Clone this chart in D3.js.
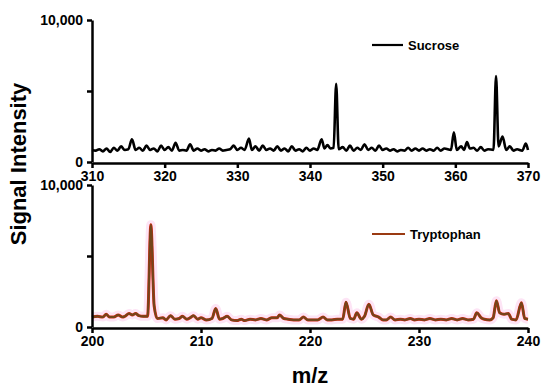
<!DOCTYPE html>
<html>
<head>
<meta charset="utf-8">
<script src="https://cdn.jsdelivr.net/npm/d3@7"></script>
<style>
  body { margin: 0; background: #fff; }
  svg { font-family: "Liberation Sans", Arial, sans-serif; }
  .axis path, .axis line { stroke: #000; stroke-width: 2.5; }
  .axis text { font-size: 14px; font-weight: bold; fill: #000; }
</style>
</head>
<body>
<div id="chart"></div>
<script>
/* DATA */
const sucroseTicks = [310, 320, 330, 340, 350, 360, 370];
const tryptophanTicks = [200, 210, 220, 230, 240];
const signalTicks = [0, 5000, 10000];

// [m/z, signal]
const sucroseSpectrum = [
  [310, 850], [310.5, 800], [311, 900], [311.5, 750], [312, 950], [312.5, 700], [313, 1000], [313.5, 800],
  [314, 1100], [314.5, 850], [315, 900], [315.5, 1600], [316, 850], [316.5, 1000], [317, 800], [317.5, 1150],
  [318, 850], [318.5, 950], [319, 750], [319.5, 1150], [320, 850], [320.5, 1050], [321, 800], [321.5, 1350],
  [322, 800], [322.5, 850], [323, 800], [323.5, 1250], [324, 800], [324.5, 950], [325, 800], [325.5, 900],
  [326, 750], [326.5, 850], [327, 800], [327.5, 950], [328, 800], [328.5, 850], [329, 900], [329.5, 1150],
  [330, 850], [330.5, 1000], [331, 850], [331.6, 1650], [332, 850], [332.5, 1100], [333, 800], [333.5, 1150],
  [334, 850], [334.5, 950], [335, 800], [335.5, 1100], [336, 800], [336.5, 950], [337, 750], [337.5, 1100],
  [338, 800], [338.5, 900], [339, 750], [339.5, 1000], [340, 800], [340.5, 950], [341, 850], [341.6, 1600],
  [342, 950], [342.4, 1200], [342.8, 950], [343.25, 1000], [343.6, 5500], [343.95, 900], [344.5, 1050], [345, 800],
  [345.5, 1150], [346, 800], [346.5, 1000], [347, 850], [347.5, 1250], [348, 850], [348.5, 1000], [349, 800],
  [349.5, 1150], [350, 850], [350.5, 950], [351, 800], [351.5, 900], [352, 750], [352.5, 850], [353, 800],
  [353.5, 1000], [354, 800], [354.5, 950], [355, 800], [355.5, 950], [356, 800], [356.5, 900], [357, 800],
  [357.5, 1000], [358, 800], [358.5, 950], [359.4, 850], [359.8, 2100], [360.2, 850], [360.8, 1100], [361.2, 850],
  [361.6, 1400], [362, 950], [362.5, 1000], [363, 800], [363.5, 1050], [364, 800], [364.5, 900], [365.25, 850],
  [365.6, 6050], [365.95, 1100], [366.5, 1800], [367, 850], [367.5, 1100], [368, 800], [368.5, 900], [369.2, 800],
  [369.7, 1300], [370, 850]
];

const tryptophanSpectrum = [
  [200, 700], [200.5, 750], [201, 700], [201.3, 900], [201.6, 700], [202, 700], [202.4, 850], [202.8, 700],
  [203, 750], [203.4, 950], [203.7, 850], [204, 950], [204.3, 800], [204.7, 750], [205.1, 750], [205.4, 7200],
  [205.7, 1500], [206, 600], [206.5, 650], [206.8, 500], [207.2, 800], [207.6, 550], [208, 600], [208.3, 750],
  [208.7, 550], [209, 650], [209.3, 800], [209.7, 550], [210, 650], [210.5, 500], [211, 600], [211.35, 1300],
  [211.7, 550], [212, 600], [212.4, 750], [212.8, 500], [213.3, 450], [213.7, 550], [214, 450], [214.5, 550],
  [215, 500], [215.5, 600], [216, 500], [216.5, 650], [217, 650], [217.2, 850], [217.6, 600], [218, 550],
  [218.5, 500], [219, 500], [219.4, 700], [219.8, 500], [220.3, 500], [220.7, 500], [221.2, 700], [221.6, 500],
  [222, 500], [222.5, 550], [223, 550], [223.3, 1750], [223.7, 600], [224, 550], [224.3, 1000], [224.7, 550],
  [225, 750], [225.4, 1600], [225.8, 850], [226.3, 700], [226.7, 500], [227, 500], [227.4, 700], [227.8, 500],
  [228.3, 550], [228.7, 500], [229.2, 600], [229.6, 500], [230, 550], [230.5, 500], [231, 600], [231.5, 500],
  [232, 550], [232.5, 500], [233, 600], [233.5, 500], [234, 600], [234.5, 500], [235, 550], [235.3, 1000],
  [235.7, 650], [236, 550], [236.5, 500], [236.8, 650], [237.1, 1850], [237.4, 1000], [237.8, 900], [238.2, 950],
  [238.5, 550], [238.9, 500], [239.4, 1700], [239.7, 600], [240, 550]
];

/* LAYOUT */
const width = 550, height = 390;
const left = 92, right = 528;

const svg = d3.select("#chart").append("svg")
  .attr("width", width)
  .attr("height", height);

function panel(opts) {
  const xScale = d3.scaleLinear().domain(opts.domain).range([left, right]);
  const yScale = d3.scaleLinear().domain([0, 10000]).range([opts.bottom, opts.top]);

  const line = d3.line()
    .x(d => xScale(d[0]))
    .y(d => yScale(d[1]))
    .curve(d3.curveMonotoneX);

  const g = svg.append("g");

  if (opts.halo) {
    g.append("path").datum(opts.data)
      .attr("d", line)
      .attr("fill", "none")
      .attr("stroke", "#fde4f5")
      .attr("stroke-width", 9)
      .attr("stroke-linejoin", "round");
    g.append("path").datum(opts.data)
      .attr("d", line)
      .attr("fill", "none")
      .attr("stroke", "#d02a12")
      .attr("stroke-width", 3)
      .attr("stroke-linejoin", "round");
  }
  g.append("path").datum(opts.data)
    .attr("d", line)
    .attr("fill", "none")
    .attr("stroke", opts.color)
    .attr("stroke-width", opts.halo ? 2.1 : 2.6)
    .attr("stroke-linejoin", "round");

  g.append("g")
    .attr("class", "axis")
    .attr("transform", `translate(0,${opts.bottom + 1})`)
    .call(d3.axisBottom(xScale).tickValues(opts.ticks).tickSize(5).tickSizeOuter(0).tickPadding(3));

  g.append("g")
    .attr("class", "axis")
    .attr("transform", `translate(${left},0)`)
    .call(d3.axisLeft(yScale).tickValues(signalTicks).tickSize(5).tickSizeOuter(0).tickPadding(4)
      .tickFormat(d => d === 5000 ? "" : d3.format(",")(d)));

  // legend
  g.append("line")
    .attr("x1", 372).attr("x2", opts.legendEnd)
    .attr("y1", opts.legendY).attr("y2", opts.legendY)
    .attr("stroke", opts.halo ? "#9a3a12" : opts.color)
    .attr("stroke-width", 2.2);
  g.append("text")
    .attr("x", opts.legendEnd + 5)
    .attr("y", opts.legendY + 4.5)
    .attr("font-size", 13)
    .attr("font-weight", "bold")
    .text(opts.label);
}

panel({ data: sucroseSpectrum, domain: [310, 370], ticks: sucroseTicks, top: 20, bottom: 162,
  color: "#000", label: "Sucrose", legendY: 45, legendEnd: 403, halo: false });
panel({ data: tryptophanSpectrum, domain: [200, 240], ticks: tryptophanTicks, top: 185, bottom: 327,
  color: "#73451a", label: "Tryptophan", legendY: 234, legendEnd: 405, halo: true });

svg.append("text")
  .attr("transform", "translate(26,164) rotate(-90)")
  .attr("text-anchor", "middle")
  .attr("font-size", 22)
  .attr("font-weight", "bold")
  .text("Signal Intensity");

svg.append("text")
  .attr("x", 310).attr("y", 383)
  .attr("text-anchor", "middle")
  .attr("font-size", 22)
  .attr("font-weight", "bold")
  .text("m/z");
</script>
</body>
</html>
